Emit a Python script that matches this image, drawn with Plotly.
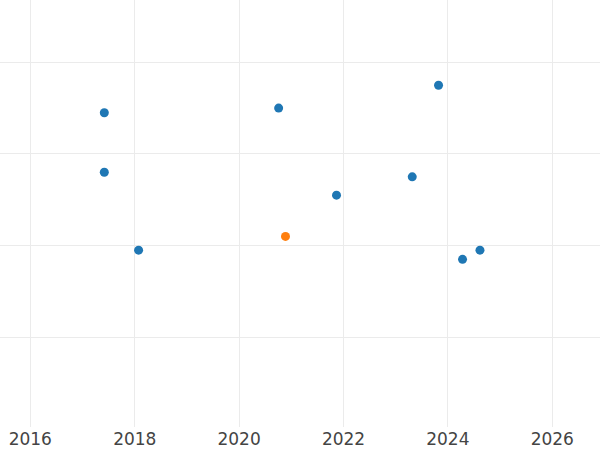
import plotly.graph_objects as go

# blue series (dates; y scale has no labels)
blue_dates = ["2017-06-02", "2017-06-02", "2018-01-28", "2020-10-04", "2021-11-13",
              "2023-04-27", "2023-10-28", "2024-04-13", "2024-08-13"]
blue_values = [34.5, 28.0, 19.5, 35.0, 25.5, 27.5, 37.5, 18.5, 19.5]

# single highlighted point
orange_dates = ["2020-11-21"]
orange_values = [21.0]

fig = go.Figure()
fig.add_trace(go.Scatter(x=blue_dates, y=blue_values, mode="markers", name="Other",
                         marker=dict(color="#1f77b4", size=9)))
fig.add_trace(go.Scatter(x=orange_dates, y=orange_values, mode="markers", name="Highlight",
                         marker=dict(color="#ff7f0e", size=9)))

fig.update_layout(
    width=600, height=450,
    margin=dict(l=0, r=0, t=0, b=23),
    paper_bgcolor="white", plot_bgcolor="white",
    showlegend=False,
    font=dict(family="DejaVu Sans", size=17, color="#444"),
)
fig.update_xaxes(type="date", range=["2015-06-03", "2026-12-01"],
                 tick0="2016-01-01", dtick="M24", tickformat="%Y",
                 showgrid=True, gridcolor="#ebebeb", gridwidth=1,
                 zeroline=False, showline=False, ticks="")
fig.update_yaxes(range=[0.2, 46.8], dtick=10, showticklabels=False,
                 showgrid=True, gridcolor="#ebebeb", gridwidth=1,
                 zeroline=False, showline=False)

# drop the page's default body margin so the chart sits flush at the corner
fig.write_html("out.html", config={"displayModeBar": False},
               post_script="document.body.style.margin='0';")
